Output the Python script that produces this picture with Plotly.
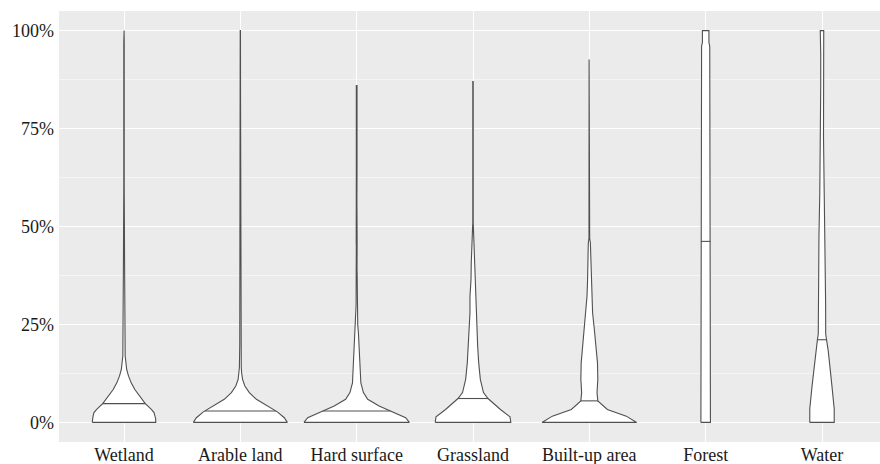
import numpy as np
import plotly.graph_objects as go

categories = ["Wetland", "Arable land", "Hard surface", "Grassland",
              "Built-up area", "Forest", "Water"]

# Violin density profiles: y levels (%) and half-widths (x-axis units)
wetland_y = [0, 1, 1.6, 2.5, 3.3, 4.8, 6.7, 8.4, 10.1, 11.8, 13.5, 15.2, 17, 22, 26, 28, 31, 33, 40, 47, 53, 58, 60, 97, 98, 100]
wetland_w = [0.273, 0.272, 0.266, 0.258, 0.235, 0.183, 0.133, 0.093, 0.062, 0.039, 0.023, 0.015, 0.010, 0.009, 0.009, 0.011, 0.011, 0.008, 0.005, 0.004, 0.003, 0.003, 0.002, 0.002, 0.001, 0.001]

arable_y = [0, 1.2, 2.7, 4.2, 5.9, 7.6, 9.3, 11, 12.7, 14, 20, 24.5, 25, 27, 27.5, 35, 66, 67, 80, 81, 100]
arable_w = [0.404, 0.378, 0.318, 0.228, 0.138, 0.077, 0.039, 0.019, 0.011, 0.008, 0.005, 0.005, 0.008, 0.008, 0.005, 0.003, 0.003, 0.002, 0.002, 0.002, 0.001]

hard_y = [0, 1.2, 2.7, 4.2, 5.9, 7.6, 10.1, 14.4, 18.6, 22.9, 25, 30, 38, 39, 45, 46, 57, 63, 64, 86]
hard_w = [0.453, 0.421, 0.305, 0.193, 0.095, 0.058, 0.036, 0.028, 0.024, 0.015, 0.009, 0.005, 0.004, 0.003, 0.003, 0.004, 0.002, 0.002, 0.003, 0.003]

grass_y = [0, 1.4, 3.3, 6.1, 7.6, 11, 15.2, 19.5, 23.7, 28, 32.2, 36.5, 40.7, 45, 49, 51, 87]
grass_w = [0.325, 0.318, 0.236, 0.129, 0.090, 0.063, 0.049, 0.040, 0.032, 0.026, 0.026, 0.017, 0.015, 0.010, 0.004, 0.002, 0.002]

built_y = [0, 1.6, 3.3, 5.5, 7.6, 11, 15.2, 19.5, 23.7, 28, 32.2, 36.5, 40.7, 45.8, 47, 72, 78, 92.6]
built_w = [0.407, 0.318, 0.155, 0.073, 0.066, 0.073, 0.070, 0.056, 0.043, 0.028, 0.020, 0.015, 0.013, 0.009, 0.003, 0.003, 0.003, 0.002]

forest_y = [0, 54, 55, 62, 63, 96, 97, 100]
forest_w = [0.041, 0.041, 0.038, 0.038, 0.035, 0.035, 0.028, 0.028]

water_y = [0, 3.5, 9.7, 18.2, 21.2, 22.5, 30.9, 47.8, 58.7, 73, 85.8, 94, 98, 100]
water_w = [0.105, 0.105, 0.084, 0.054, 0.039, 0.032, 0.031, 0.026, 0.019, 0.013, 0.011, 0.011, 0.015, 0.015]

medians = [4.8, 2.9, 2.9, 6.1, 5.5, 46.2, 21.1]

y_ticks = [0, 25, 50, 75, 100]
y_ticktext = ["0%", "25%", "50%", "75%", "100%"]
y_minor = [12.5, 37.5, 62.5, 87.5]

profiles = [(wetland_y, wetland_w), (arable_y, arable_w), (hard_y, hard_w),
            (grass_y, grass_w), (built_y, built_w), (forest_y, forest_w),
            (water_y, water_w)]

outline = "#505050"
fig = go.Figure()
for i, (name, (py, pw), med) in enumerate(zip(categories, profiles, medians)):
    pos = i + 1
    py = np.array(py, dtype=float)
    pw = np.array(pw, dtype=float)
    xs = np.concatenate([pos - pw, (pos + pw)[::-1], [pos - pw[0]]])
    ys = np.concatenate([py, py[::-1], [py[0]]])
    fig.add_trace(go.Scatter(x=xs, y=ys, mode="lines", fill="toself",
                             fillcolor="white",
                             line=dict(color=outline, width=1.1),
                             name=name, showlegend=False, hoverinfo="skip"))
    mw = float(np.interp(med, py, pw))
    fig.add_trace(go.Scatter(x=[pos - mw, pos + mw], y=[med, med], mode="lines",
                             line=dict(color=outline, width=1.1),
                             showlegend=False, hoverinfo="skip"))

font_family = "Liberation Serif"
fig.update_layout(
    width=880, height=464,
    margin=dict(l=59, r=0, t=11, b=22),
    paper_bgcolor="white",
    plot_bgcolor="#EBEBEB",
    font=dict(family=font_family, size=18, color="#1a1a1a"),
    xaxis=dict(range=[0.4412, 7.4986], tickmode="array",
               tickvals=list(range(1, len(categories) + 1)),
               ticktext=categories, showgrid=True, gridcolor="white",
               gridwidth=1.2, zeroline=False, showline=False, ticks="",
               tickfont=dict(family=font_family, size=18, color="#1a1a1a")),
    yaxis=dict(range=[-5, 105], tickmode="array", tickvals=y_ticks,
               ticktext=y_ticktext, showgrid=True, gridcolor="white",
               gridwidth=1.2, zeroline=False, showline=False, ticks="",
               ticklabelstandoff=4,
               tickfont=dict(family=font_family, size=18, color="#1a1a1a"),
               minor=dict(tickvals=y_minor, showgrid=True,
                          gridcolor="#F5F5F5", gridwidth=0.6)),
)

fig.write_html("out.html",
               config={"displayModeBar": False},
               post_script="document.body.style.margin='0';"
                           "document.body.style.overflow='hidden';")
